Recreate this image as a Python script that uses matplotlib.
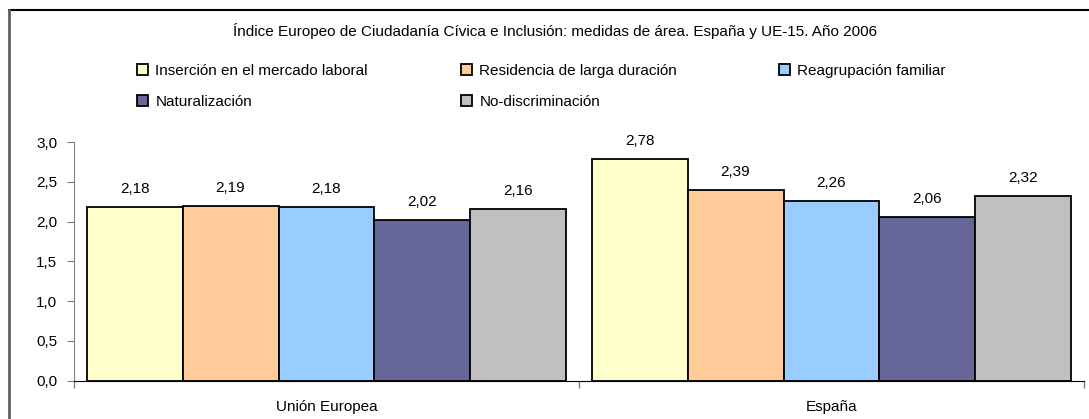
import numpy as np
import matplotlib
matplotlib.use('Agg')
import matplotlib.pyplot as plt
from matplotlib.ticker import FuncFormatter, FixedLocator
from matplotlib.lines import Line2D
from matplotlib.patches import Patch

plt.rcParams['font.family'] = ['Liberation Sans', 'DejaVu Sans']

title = 'Índice Europeo de Ciudadanía Cívica e Inclusión: medidas de área. España y UE-15. Año 2006'
categories = ['Unión Europea', 'España']
series = ['Inserción en el mercado laboral', 'Residencia de larga duración',
          'Reagrupación familiar', 'Naturalización', 'No-discriminación']
values = [
    [2.18, 2.78],
    [2.19, 2.39],
    [2.18, 2.26],
    [2.02, 2.06],
    [2.16, 2.32],
]
colors = ['#FFFFCC', '#FFCC99', '#99CCFF', '#666699', '#C0C0C0']
fs = 11

fig = plt.figure(figsize=(10.89, 4.19), dpi=100)
ax = fig.add_axes([74 / 1089, 1 - 380.5 / 419, 1010 / 1089, 238.5 / 419])

x = np.arange(len(categories))
w = 0.19
for i, (name, vals) in enumerate(zip(series, values)):
    b = ax.bar(x + (i - 2) * w, vals, w, color=colors[i], edgecolor='black',
               linewidth=1.3, label=name)
    ax.bar_label(b, labels=[f'{v:.2f}'.replace('.', ',') for v in vals],
                 padding=8, fontsize=fs)

ax.set_xlim(-0.5, 1.5)
ax.set_ylim(0, 3.0)
ax.set_yticks(np.arange(0, 3.01, 0.5))
ax.yaxis.set_major_formatter(FuncFormatter(lambda v, p: f'{v:.1f}'.replace('.', ',')))
ax.xaxis.set_major_locator(FixedLocator([-0.5, 0.5, 1.5]))
ax.set_xticklabels([])
ax.xaxis.set_minor_locator(FixedLocator(x))
ax.set_xticklabels(categories, minor=True)
ax.tick_params(axis='x', which='minor', length=0, pad=14, labelsize=fs)
ax.tick_params(axis='x', which='major', length=5, color='#808080', width=1)
ax.tick_params(axis='y', length=5, color='#808080', labelsize=fs, pad=7)
for s in ['top', 'right']:
    ax.spines[s].set_visible(False)
ax.spines['left'].set_color('#808080')
ax.spines['bottom'].set_color('black')

fig.text(555 / 1089, 1 - 31 / 419, title, ha='center', va='center', fontsize=fs)

leg_pos = [(137, 71), (461, 71), (779, 71), (137, 102), (461, 102)]
for i, (px, py) in enumerate(leg_pos):
    h = Patch(facecolor=colors[i], edgecolor='black', linewidth=1.3)
    fig.legend(handles=[h], labels=[series[i]], loc='center left',
               bbox_to_anchor=(px / 1089, 1 - py / 419), frameon=False,
               fontsize=fs, handlelength=0.7, handleheight=0.7,
               handletextpad=0.5, borderpad=0, borderaxespad=0)

# chart frame
fig.add_artist(Line2D([9 / 1089, 1.0], [1 - 10 / 419, 1 - 10 / 419], color='black', lw=1.5))
fig.add_artist(Line2D([9 / 1089, 9 / 1089], [0, 1 - 10 / 419], color='#606060', lw=2))

fig.savefig('out.png', dpi=100)
